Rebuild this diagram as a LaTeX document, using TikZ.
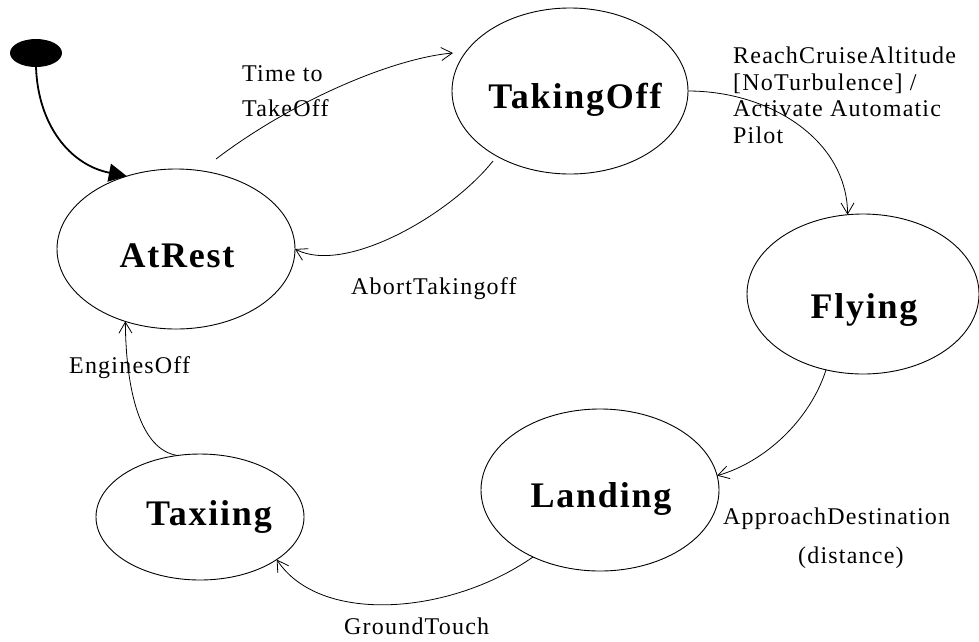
\documentclass[tikz,border=0pt]{standalone}
\usepackage{fontspec}
\setmainfont{Liberation Serif}
\newfontfamily\lblfont{Liberation Serif}[LetterSpace=5]
\usetikzlibrary{arrows.meta,shapes.geometric}
\begin{document}
\begin{tikzpicture}[x=1pt,y=-1pt,
  state/.style={ellipse, draw, line width=0.9pt, inner sep=0pt, outer sep=0pt},
  initstate/.style={ellipse, fill=black, inner sep=0pt, outer sep=0pt},
  statetext/.style={font=\lblfont\bfseries\fontsize{36}{40}\selectfont, inner sep=0pt, anchor=base},
  lbl/.style={font=\lblfont\fontsize{24}{28}\selectfont, inner sep=0pt, anchor=base west},
  trans/.style={line width=0.8pt, -{Straight Barb[length=11pt,width=13pt]}},
  initarrow/.style={line width=1.8pt, -{Triangle[length=18pt,width=18pt]}}
]
\useasboundingbox (0,0) rectangle (979,641);

% states
\node[initstate, minimum width=52pt, minimum height=28pt] (init) at (36,53) {};
\node[state, minimum width=238pt, minimum height=160pt] (AtRest) at (176,249) {};
\node[state, minimum width=236pt, minimum height=166pt] (TakingOff) at (570,91) {};
\node[state, minimum width=232pt, minimum height=160pt] (Flying) at (863,294) {};
\node[state, minimum width=238pt, minimum height=162pt] (Landing) at (600,490) {};
\node[state, minimum width=208pt, minimum height=126pt] (Taxiing) at (200,517) {};

\node[statetext] (AtRestT) at (177,267) {AtRest};
\node[statetext] (TakingOffT) at (575,108) {TakingOff};
\node[statetext] (FlyingT) at (864,318) {Flying};
\node[statetext] (LandingT) at (601,507) {Landing};
\node[statetext] (TaxiingT) at (209,525) {Taxiing};

% free ends
\coordinate (ttStart) at (216,159);
\coordinate (ttEnd) at (453,53);
\coordinate (abStart) at (493,161);

% transitions
\draw[initarrow] (init.south) .. controls (38,125) and (70,165) .. (AtRest.124);
\draw[trans] (ttStart) .. controls (295,99) and (395,58) .. (ttEnd);
\draw[trans] (TakingOff.east) .. controls (770,91) and (847,140) .. (Flying.101);
\draw[trans] (abStart) .. controls (450,215) and (345,275) .. (AtRest.east);
\draw[trans] (Flying.244) .. controls (810,420) and (765,462) .. (Landing.7);
\draw[trans] (Landing.225) .. controls (450,615) and (320,625) .. (Taxiing.331);
\draw[trans] (Taxiing.110) .. controls (140,450) and (126,390) .. (AtRest.235);

% labels
\node[lbl] (l1a) at (242,81) {Time to};
\node[lbl] (l1b) at (242,116) {TakeOff};
\node[lbl] (l2a) at (733,63) {ReachCruiseAltitude};
\node[lbl] (l2b) at (733,90) {[NoTurbulence] /};
\node[lbl] (l2c) at (733,116) {Activate Automatic};
\node[lbl] (l2d) at (733,143) {Pilot};
\node[lbl] (l3) at (351,294) {AbortTakingoff};
\node[lbl] (l4a) at (723,524) {ApproachDestination};
\node[lbl] (l4b) at (798,563) {(distance)};
\node[lbl] (l5) at (344,634) {GroundTouch};
\node[lbl] (l6) at (69,373) {EnginesOff};
\end{tikzpicture}
\end{document}
